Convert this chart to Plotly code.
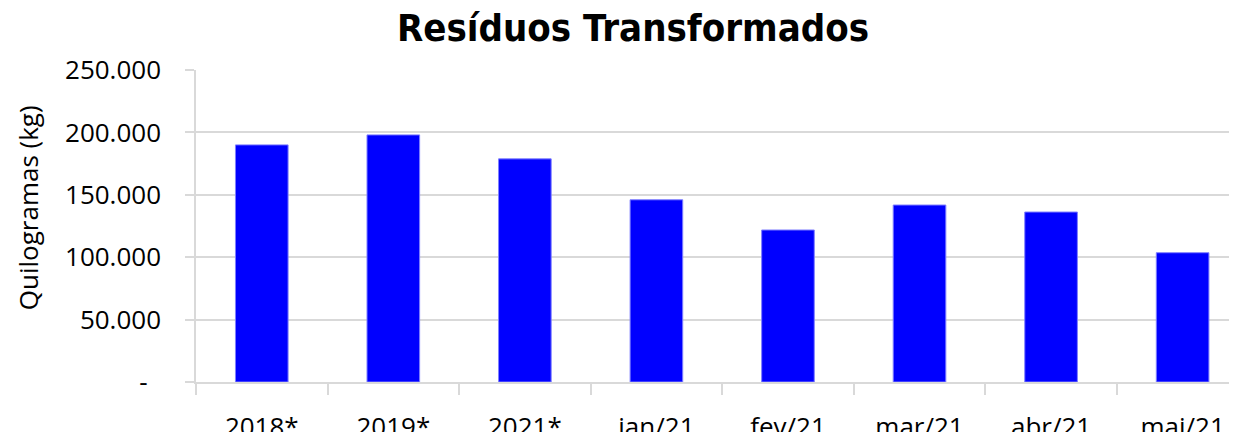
import plotly.graph_objects as go

categories = ["2018*", "2019*", "2021*", "jan/21", "fev/21", "mar/21", "abr/21", "mai/21"]
values = [190000, 198000, 178800, 146000, 121800, 141800, 136200, 103600]
y_tickvals = [0, 50000, 100000, 150000, 200000, 250000]
y_ticktext = ["-\u00a0\u00a0", "50.000", "100.000", "150.000", "200.000", "250.000"]

# page has an 8px body margin; figure coordinates below are offset accordingly
OFF = 8
W, H = 1237 - OFF, 432 - OFF
L, T = 195.6 - OFF, 70 - OFF
B = H - (382.5 - OFF)
grid = "#d9d9d9"
font = "Open Sans"

fig = go.Figure(go.Bar(
    x=categories, y=values, width=0.40,
    marker=dict(color="#0000ff", line=dict(color="#7f7fff", width=1)),
))

fig.update_layout(
    width=W, height=H,
    margin=dict(l=L, r=0, t=T, b=B, pad=0, autoexpand=False),
    plot_bgcolor="white", paper_bgcolor="white",
    showlegend=False,
    font=dict(family=font, size=26, color="#000000"),
    title=dict(text="<b>Resíduos Transformados</b>", x=(633 - OFF) / W, xanchor="center",
               y=1 - (28 - OFF) / H, yanchor="middle",
               font=dict(family="DejaVu Sans Condensed", size=38, color="#000000")),
    bargap=0.6,
)
fig.update_xaxes(
    type="category", range=[-0.5, -0.5 + (W - L) / 131.6], automargin=False,
    showline=True, linecolor=grid, linewidth=1.5,
    ticks="outside", tickson="boundaries", ticklen=11, tickcolor=grid, tickwidth=1.5,
    showgrid=False, ticklabelstandoff=21,
    tickfont=dict(family=font, size=26, color="#000000"),
)
fig.update_yaxes(
    range=[0, 250000], tickvals=y_tickvals, ticktext=y_ticktext, automargin=False,
    showgrid=True, gridcolor=grid, gridwidth=1.5,
    showline=True, linecolor=grid, linewidth=1.5,
    ticks="outside", ticklen=9, tickcolor=grid, tickwidth=1.5,
    ticklabelstandoff=19, zeroline=False,
    tickfont=dict(family=font, size=26, color="#000000"),
)
fig.add_annotation(
    text="Quilogramas (kg)", textangle=-90, xref="paper", yref="paper",
    x=(27 - OFF - L) / (W - L), y=1 - (208 - 70) / (382.5 - 70), xanchor="center", yanchor="middle",
    showarrow=False, font=dict(family=font, size=26, color="#000000"),
)

fig.write_html("out.html")
